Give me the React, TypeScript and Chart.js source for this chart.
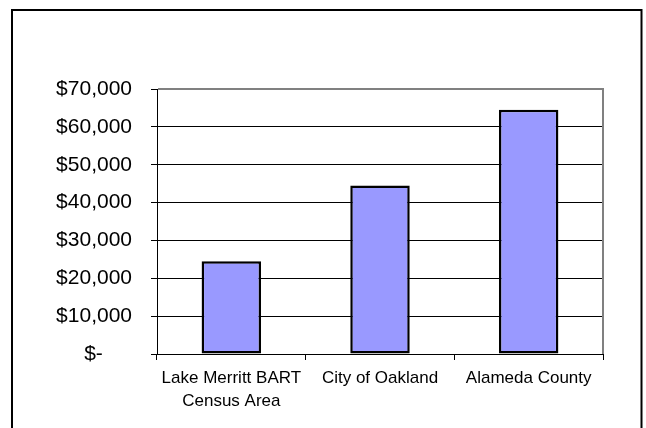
import React, { useEffect, useRef } from "react";
import { Chart, registerables } from "chart.js";

Chart.register(...registerables);

const categories: string[][] = [
  ["Lake Merritt BART", "Census Area"],
  ["City of Oakland"],
  ["Alameda County"],
];
const incomeValues: number[] = [24500, 44500, 64500];
const yTickValues: number[] = [0, 10000, 20000, 30000, 40000, 50000, 60000, 70000];

function fmtDollar(v: number): string {
  if (v === 0) return "$-     ";
  return "$" + v.toLocaleString("en-US");
}

const framePlugin = {
  id: "frameAndBorder",
  beforeDraw(chart: any) {
    const ctx = chart.ctx;
    ctx.save();
    ctx.strokeStyle = "#000";
    ctx.lineWidth = 2;
    ctx.strokeRect(12, 10, 629.5, 500);
    ctx.restore();
  },
  afterDatasetsDraw(chart: any) {
    const { ctx, chartArea } = chart;
    ctx.save();
    ctx.strokeStyle = "#808080";
    ctx.lineWidth = 2;
    ctx.beginPath();
    ctx.moveTo(chartArea.left + 1, chartArea.top);
    ctx.lineTo(chartArea.right, chartArea.top);
    ctx.lineTo(chartArea.right, chartArea.bottom);
    ctx.stroke();
    ctx.restore();
  },
};

export default function App() {
  const ref = useRef<HTMLCanvasElement | null>(null);
  useEffect(() => {
    if (!ref.current) return;
    const chart = new Chart(ref.current, {
      type: "bar",
      data: {
        labels: categories,
        datasets: [
          {
            data: incomeValues,
            backgroundColor: "#9999FF",
            borderColor: "#000000",
            borderWidth: 2.5,
            borderSkipped: false,
            barPercentage: 0.4,
            categoryPercentage: 1,
          },
        ],
      },
      options: {
        animation: false,
        responsive: false,
        maintainAspectRatio: false,
        layout: { padding: { top: 89, right: 43, left: 0, bottom: 0 } },
        plugins: { legend: { display: false }, tooltip: { enabled: false } },
        scales: {
          y: {
            min: 0,
            max: 70000,
            afterFit: (s: any) => {
              s.width = 157;
            },
            afterBuildTicks: (s: any) => {
              s.ticks = yTickValues.map((v) => ({ value: v }));
            },
            ticks: {
              color: "#000",
              padding: 19,
              font: { family: "'Liberation Sans', Arial, sans-serif", size: 21 },
              callback: (v: any) => fmtDollar(Number(v)),
            },
            grid: {
              color: (c: any) => (c.tick && c.tick.value === 70000 ? "rgba(0,0,0,0)" : "#000"),
              tickColor: "#000",
              tickLength: 6,
              lineWidth: 1,
            },
            border: { color: "#000", width: 1 },
          },
          x: {
            afterFit: (s: any) => {
              s.height = 74;
            },
            ticks: {
              color: "#000",
              padding: 7,
              maxRotation: 0,
              autoSkip: false,
              font: { family: "'Liberation Sans', Arial, sans-serif", size: 17, lineHeight: 1.353 },
            },
            grid: {
              drawOnChartArea: false,
              drawTicks: true,
              tickLength: 6,
              color: "#000",
              tickColor: "#000",
              offset: true,
            },
            border: { color: "#000", width: 1 },
          },
        },
      },
      plugins: [framePlugin],
    });
    return () => chart.destroy();
  }, []);
  return (
    <div style={{ position: "fixed", left: 0, top: 0, width: 646, height: 428, background: "#fff" }}>
      <canvas ref={ref} width={646} height={428} style={{ display: "block" }} />
    </div>
  );
}
